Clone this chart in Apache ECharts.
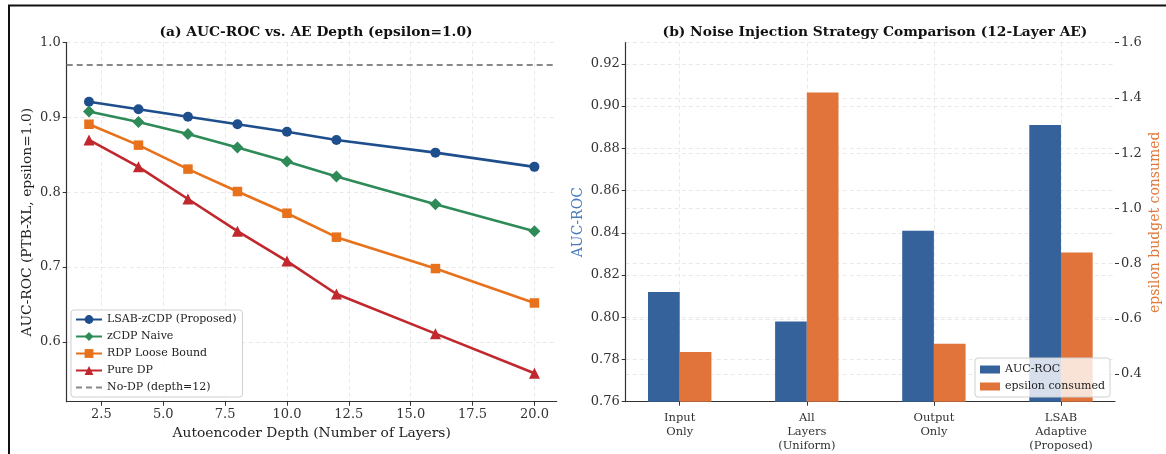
<!DOCTYPE html>
<html>
<head>
<meta charset="utf-8">
<script src="https://cdn.jsdelivr.net/npm/echarts@6.0.0/dist/echarts.min.js"></script>
<style>
  html, body { margin: 0; padding: 0; background: #fff; }
  #chart { width: 1166px; height: 454px; }
</style>
</head>
<body>
<div id="chart"></div>
<script>
// Panel (a): AUC-ROC vs depth
const depths = [2, 4, 6, 8, 10, 12, 16, 20];
const lsabZcdp = [0.921, 0.911, 0.901, 0.891, 0.881, 0.870, 0.853, 0.834];
const zcdpNaive = [0.908, 0.894, 0.878, 0.860, 0.841, 0.821, 0.784, 0.748];
const rdpLoose = [0.891, 0.863, 0.831, 0.801, 0.772, 0.740, 0.698, 0.652];
const pureDp = [0.870, 0.834, 0.791, 0.748, 0.708, 0.664, 0.611, 0.558];
const noDpAuc = 0.975;
const depthTicks = [2.5, 5, 7.5, 10, 12.5, 15, 17.5, 20];
const aucTicksA = [0.6, 0.7, 0.8, 0.9, 1.0];

// Panel (b): noise injection strategies
const strategies = ['Input\nOnly', 'All\nLayers\n(Uniform)', 'Output\nOnly', 'LSAB\nAdaptive\n(Proposed)'];
const strategyAuc = [0.812, 0.798, 0.841, 0.891];
const strategyEps = [0.48, 1.42, 0.51, 0.84];
const aucTicksB = [0.76, 0.78, 0.80, 0.82, 0.84, 0.86, 0.88, 0.90, 0.92];
const epsTicks = [0.4, 0.6, 0.8, 1.0, 1.2, 1.4, 1.6];

const FONT = 'DejaVu Serif';
const gridLine = { show: true, lineStyle: { color: '#e3e3e3', width: 0.8, type: [4, 3] } };
const spine = { show: true, onZero: false, lineStyle: { color: '#333', width: 1.2 } };
const tick = { show: true, length: 4, lineStyle: { color: '#333', width: 1 } };

function lineSeries(name, values, color, symbol, size) {
    return {
        name: name,
        type: 'line',
        xAxisIndex: 0,
        yAxisIndex: 0,
        data: depths.map((d, i) => [d, values[i]]),
        symbol: symbol,
        symbolSize: size,
        lineStyle: { color: color, width: 2.6 },
        itemStyle: { color: color },
        emphasis: { disabled: true },
        z: 3
    };
}

const chart = echarts.init(document.getElementById('chart'), null, { renderer: 'canvas' });

const option = {
    animation: false,
    backgroundColor: '#fff',
    textStyle: { fontFamily: FONT },
    title: [
        {
            text: '(a) AUC-ROC vs. AE Depth (epsilon=1.0)',
            left: 311, top: 20, textAlign: 'center',
            textStyle: { fontFamily: FONT, fontSize: 13.8, fontWeight: 'bold', color: '#111' }
        },
        {
            text: '(b) Noise Injection Strategy Comparison (12-Layer AE)',
            left: 870, top: 20, textAlign: 'center',
            textStyle: { fontFamily: FONT, fontSize: 13.8, fontWeight: 'bold', color: '#111' }
        }
    ],
    grid: [
        { left: 66.7, right: 609.3, top: 42.7, bottom: 52.3 },
        { left: 625.7, right: 51, top: 42.7, bottom: 52.3 }
    ],
    xAxis: [
        {
            type: 'value', gridIndex: 0, min: 1.1, max: 20.9,
            name: 'Autoencoder Depth (Number of Layers)',
            nameLocation: 'middle', nameGap: 25,
            nameTextStyle: { fontFamily: FONT, fontSize: 13.8, color: '#222' },
            axisLine: spine,
            axisTick: Object.assign({ customValues: depthTicks }, tick),
            axisLabel: {
                customValues: depthTicks, margin: 6,
                fontFamily: FONT, fontSize: 13, color: '#333',
                formatter: v => v.toFixed(1)
            },
            splitLine: gridLine
        },
        {
            type: 'value', gridIndex: 1, min: -0.425, max: 3.425,
            axisLine: spine,
            axisTick: Object.assign({ customValues: [0, 1, 2, 3] }, tick),
            axisLabel: {
                customValues: [0, 1, 2, 3], margin: 9,
                fontFamily: FONT, fontSize: 11.5, color: '#333', lineHeight: 14,
                formatter: v => strategies[Math.round(v)]
            },
            splitLine: gridLine
        }
    ],
    yAxis: [
        {
            type: 'value', gridIndex: 0, min: 0.52, max: 1.0,
            name: 'AUC-ROC (PTB-XL, epsilon=1.0)',
            nameLocation: 'middle', nameGap: 32,
            nameTextStyle: { fontFamily: FONT, fontSize: 13.8, color: '#222' },
            axisLine: spine,
            axisTick: Object.assign({ customValues: aucTicksA }, tick),
            axisLabel: {
                customValues: aucTicksA, margin: 6,
                fontFamily: FONT, fontSize: 13, color: '#333',
                formatter: v => v.toFixed(1)
            },
            splitLine: gridLine
        },
        {
            type: 'value', gridIndex: 1, min: 0.76, max: 0.93, position: 'left',
            name: 'AUC-ROC',
            nameLocation: 'middle', nameGap: 40,
            nameTextStyle: { fontFamily: FONT, fontSize: 14, color: '#4a7bbd' },
            axisLine: spine,
            axisTick: Object.assign({ customValues: aucTicksB }, tick),
            axisLabel: {
                customValues: aucTicksB, margin: 6,
                fontFamily: FONT, fontSize: 13, color: '#333',
                formatter: v => v.toFixed(2)
            },
            splitLine: gridLine
        },
        {
            type: 'value', gridIndex: 1, min: 0.3, max: 1.6, position: 'right',
            name: 'epsilon budget consumed',
            nameLocation: 'middle', nameGap: 33,
            nameTextStyle: { fontFamily: FONT, fontSize: 14, color: '#e07a3c' },
            axisLine: { show: false, onZero: false },
            axisTick: Object.assign({ customValues: epsTicks }, tick),
            axisLabel: {
                customValues: epsTicks, margin: 6,
                fontFamily: FONT, fontSize: 13, color: '#333',
                formatter: v => v.toFixed(1)
            },
            splitLine: gridLine
        }
    ],
    legend: [
        {
            data: [
                'LSAB-zCDP (Proposed)', 'zCDP Naive', 'RDP Loose Bound', 'Pure DP',
                { name: 'No-DP (depth=12)', itemStyle: { opacity: 0 } }
            ],
            orient: 'vertical', left: 71, top: 310,
            itemWidth: 26, itemHeight: 11, itemGap: 4,
            padding: [3, 6, 3, 4],
            backgroundColor: 'rgba(255,255,255,0.85)',
            borderColor: '#d0d0d0', borderWidth: 1, borderRadius: 3,
            textStyle: { fontFamily: FONT, fontSize: 11, color: '#222', lineHeight: 13 }
        },
        {
            data: ['AUC-ROC', 'epsilon consumed'],
            orient: 'vertical', left: 975, top: 358,
            icon: 'rect', itemWidth: 20, itemHeight: 8, itemGap: 4,
            padding: [5, 5, 4, 5],
            backgroundColor: 'rgba(255,255,255,0.8)',
            borderColor: '#d0d0d0', borderWidth: 1, borderRadius: 3,
            textStyle: { fontFamily: FONT, fontSize: 11, color: '#222', lineHeight: 13 }
        }
    ],
    series: [
        lineSeries('LSAB-zCDP (Proposed)', lsabZcdp, '#1f4e8c', 'circle', 10),
        lineSeries('zCDP Naive', zcdpNaive, '#2e8b57', 'diamond', 12),
        lineSeries('RDP Loose Bound', rdpLoose, '#e8711c', 'rect', 9.5),
        lineSeries('Pure DP', pureDp, '#c0282d', 'triangle', 11),
        {
            name: 'No-DP (depth=12)',
            type: 'line',
            xAxisIndex: 0, yAxisIndex: 0,
            data: [],
            symbol: 'none',
            lineStyle: { color: '#888', width: 1.8, type: [6, 4] },
            itemStyle: { color: '#888' },
            markLine: {
                silent: true, symbol: 'none', label: { show: false },
                lineStyle: { color: '#888', width: 1.8, type: [6, 4] },
                data: [{ yAxis: noDpAuc }]
            }
        },
        {
            name: 'AUC-ROC',
            type: 'bar',
            xAxisIndex: 1, yAxisIndex: 1,
            data: strategyAuc.map((v, i) => [i, v]),
            barWidth: 31.7, barGap: '0%',
            itemStyle: { color: '#35629a' },
            emphasis: { disabled: true }
        },
        {
            name: 'epsilon consumed',
            type: 'bar',
            xAxisIndex: 1, yAxisIndex: 2,
            data: strategyEps.map((v, i) => [i, v]),
            barWidth: 31.7, barGap: '0%',
            itemStyle: { color: '#e0743a' },
            emphasis: { disabled: true }
        }
    ],
    graphic: [
        {
            type: 'rect',
            shape: { x: 9, y: 5.5, width: 1170, height: 470 },
            style: { fill: null, stroke: '#111', lineWidth: 2 },
            silent: true
        }
    ]
};

chart.setOption(option);
</script>
</body>
</html>
